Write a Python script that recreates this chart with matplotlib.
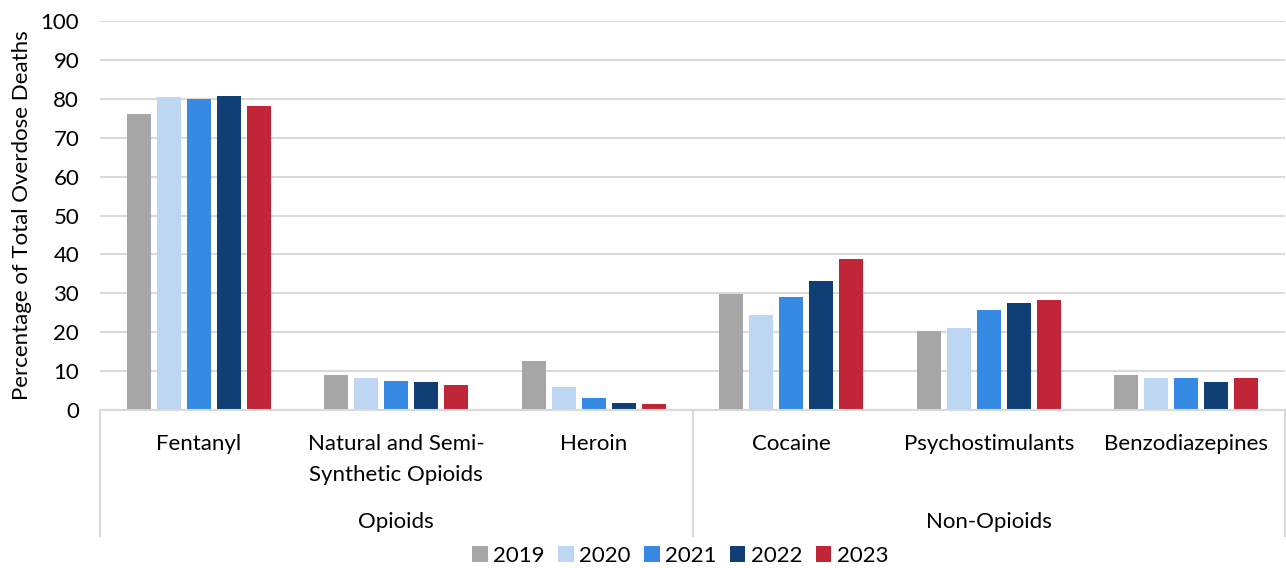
import numpy as np
import matplotlib
matplotlib.use('Agg')
import matplotlib.pyplot as plt

plt.rcParams['font.family'] = ['Lato', 'DejaVu Sans']

categories = ['Fentanyl', 'Natural and Semi-\nSynthetic Opioids', 'Heroin',
              'Cocaine', 'Psychostimulants', 'Benzodiazepines']
groups = ['Opioids', 'Non-Opioids']
years = ['2019', '2020', '2021', '2022', '2023']
colors = ['#a6a6a6', '#bdd7f3', '#368ae4', '#0f3f74', '#c02538']

values_2019 = [76.1, 9.0, 12.7, 29.7, 20.3, 9.0]
values_2020 = [80.5, 8.1, 5.9, 24.3, 21.0, 8.2]
values_2021 = [79.9, 7.5, 3.0, 29.0, 25.7, 8.1]
values_2022 = [80.6, 7.2, 1.8, 33.1, 27.4, 7.2]
values_2023 = [78.2, 6.4, 1.5, 38.9, 28.3, 8.2]
series = [values_2019, values_2020, values_2021, values_2022, values_2023]

FS = 16


def main():
    fig = plt.figure(figsize=(12.86, 5.68), dpi=100)
    ax = fig.add_axes([100 / 1286, 158 / 568, 1185 / 1286, 389 / 568])

    x = np.arange(len(categories))
    step = 0.152
    width = 0.122
    for i, (vals, year, col) in enumerate(zip(series, years, colors)):
        ax.bar(x + (i - 2) * step, vals, width, color=col, label=year,
               zorder=3)

    ax.set_xlim(-0.5, len(categories) - 0.5)
    ax.set_ylim(0, 100)
    ax.set_yticks(range(0, 101, 10))
    ax.tick_params(axis='y', length=0, labelsize=FS, pad=15)
    ax.set_xticks([])
    ax.yaxis.grid(True, color='#d9d9d9', linewidth=1.5, zorder=0)
    for s in ['top', 'right', 'left']:
        ax.spines[s].set_visible(False)
    ax.spines['bottom'].set_color('#d9d9d9')
    ax.spines['bottom'].set_linewidth(1.5)
    ax.spines['bottom'].set_zorder(4)
    ax.set_ylabel('Percentage of Total Overdose Deaths', fontsize=FS,
                  labelpad=6)

    # category and group labels under the axis
    for xi, cat in zip(x, categories):
        ax.text(xi, -6.2, cat, ha='center', va='top', fontsize=FS,
                linespacing=1.65)
    ax.text(1, -26.3, groups[0], ha='center', va='top', fontsize=FS)
    ax.text(4, -26.3, groups[1], ha='center', va='top', fontsize=FS)

    # separators between groups
    for xs in [-0.5, 2.5, 5.5]:
        ax.plot([xs, xs], [0, -32.5], color='#d9d9d9', linewidth=1.5,
                clip_on=False)

    ax.legend(loc='center', bbox_to_anchor=(0.529, 0.022),
              bbox_transform=fig.transFigure, ncol=5, frameon=False,
              fontsize=FS, handlelength=0.7, handleheight=0.7,
              handletextpad=0.25, columnspacing=0.6)

    fig.savefig('out.png', dpi=100)


if __name__ == '__main__':
    main()
